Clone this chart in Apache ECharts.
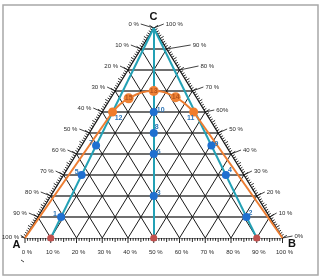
<!DOCTYPE html>
<html><head><meta charset="utf-8">
<script src="https://cdn.jsdelivr.net/npm/echarts@6/dist/echarts.min.js"></script>
<style>html,body{margin:0;padding:0;background:#fff}#c{width:324px;height:277px}</style>
</head><body><div id="c"></div>
<script>
// ---- Tick labels (index = 0..10, i.e. 0 %..100 % along each edge) ----
const baseLabels  = ['0 %','10 %','20 %','30 %','40 %','50 %','60 %','70 %','80 %','90 %','100 %']; // along A -> B
const leftLabels  = ['100 %','90 %','80 %','70 %','60 %','50 %','40 %','30 %','20 %','10 %','0 %']; // along A -> C
const rightLabels = ['0%','10 %','20 %','30 %','40 %','50 %','60%','70 %','80 %','90 %','100 %'];   // along B -> C
const gridSteps = [10,20,30,40,50,60,70,80,90];
const vertexNames = ['A','B','C'];

// ---- Feed points on the A-B base (A %, B %, C %) ----
const feedA = [90, 50, 10];
const feedB = [10, 50, 90];
const feedC = [0, 0, 0];

// ---- Blue points (A %, B %, C %) ----
const blueNames = ['1','5','7','3','6','8','10','2','4','9'];
const blueA = [81, 63, 50.4, 40, 30, 25, 20, 9, 7, 5.6];
const blueB = [9, 7, 5.6, 40, 30, 25, 20, 81, 63, 50.4];
const blueC = [10, 30, 44, 20, 40, 50, 60, 10, 30, 44];

// ---- Orange (binodal) curve points (A %, B %, C %) ----
const curveNames = ['A','12','15','13','14','11','B'];
const curveA = [100, 36, 26.5, 15, 8, 4.5, 0];
const curveB = [0, 4, 7, 15, 25, 35.5, 100];
const curveC = [0, 60, 66.5, 70, 67, 60, 0];

// ---- styling constants ----
const blueLabelOffsets = [[-6,-3],[-5,-3],[-5,-3],[5,-3],[5,-2],[3,-6],[7,-2],[4,-4],[4,-5],[5,-2]];
const leftGap  = [5,10,11,9,10,11,10,9,9,11,14];
const leftDy   = [-1,-4,-4,-4,-4,-4,-4,-4,-4,-4,-4];
const rightGap = [11,8,9,9,11,10,10,12,20,25,11];
const rightDy  = [-2,-4,-4,-4,-4,-4,-2,-4,-4,-4,-4];

function xy(a, b, c) { return [(b + c / 2) / 100, c / 100]; }

const chart = echarts.init(document.getElementById('c'), null, {renderer: 'canvas'});

// grid lines
const hLines = gridSteps.map(c => ({coords: [xy(100 - c, 0, c), xy(0, 100 - c, c)]}));
const dLines = [];
gridSteps.forEach(v => {
  dLines.push({coords: [xy(100 - v, v, 0), xy(0, v, 100 - v)]}); // constant B
  dLines.push({coords: [xy(v, 100 - v, 0), xy(v, 0, 100 - v)]}); // constant A
});
const edgeLines = [
  {coords: [xy(100,0,0), xy(0,100,0)]},
  {coords: [xy(100,0,0), xy(0,0,100)]},
  {coords: [xy(0,100,0), xy(0,0,100)]}
];
const tealLines = feedA.map((a, i) => ({coords: [xy(a, feedB[i], feedC[i]), xy(0, 0, 100)]}));

const last = curveA.length - 1;
const cpt = i => xy(curveA[i], curveB[i], curveC[i]);  // fresh array each call
const orangeLegs = [{coords: [cpt(0), cpt(1)]}, {coords: [cpt(last - 1), cpt(last)]}];
const arcData = [];
for (let i = 1; i < last; i++) arcData.push(cpt(i));

// ticks data
const tickData = [];
for (let e = 0; e < 3; e++) for (let i = 0; i <= 100; i++) tickData.push([e, i]);

const fontFam = '"Liberation Sans", Arial, sans-serif';

function renderTick(params, api) {
  const e = api.value(0), i = api.value(1), f = i;
  let p, n;
  const A = api.coord(xy(100,0,0)), B = api.coord(xy(0,100,0)), C = api.coord(xy(0,0,100));
  if (e === 0) { p = api.coord(xy(100 - f, f, 0)); n = [0, 1]; }
  else if (e === 1) {
    p = api.coord(xy(100 - f, 0, f));
    const dx = C[0] - A[0], dy = C[1] - A[1], L = Math.hypot(dx, dy);
    n = [dy / L, -dx / L];
  } else {
    p = api.coord(xy(0, 100 - f, f));
    const dx = C[0] - B[0], dy = C[1] - B[1], L = Math.hypot(dx, dy);
    n = [-dy / L, dx / L];
  }
  const len = i % 10 === 0 ? 5 : (i % 5 === 0 ? 4 : 2.8);
  const children = [{
    type: 'line',
    shape: {x1: p[0], y1: p[1], x2: p[0] + n[0] * len, y2: p[1] + n[1] * len},
    style: {stroke: '#111', lineWidth: 0.9}
  }];
  if (i % 10 === 0) {
    const k = i / 10;
    const ts = {fontSize: 6, fontFamily: fontFam, fill: '#2a2a2a'};
    if (e === 0) {
      children.push({type: 'text', x: p[0] + 2, y: p[1] + 14.5,
        style: Object.assign({text: baseLabels[k], align: 'center', verticalAlign: 'middle'}, ts)});
    } else if (e === 1) {
      const tx = p[0] - leftGap[k], ty = p[1] + leftDy[k];
      children.push({type: 'line', shape: {x1: p[0], y1: p[1], x2: tx + 1, y2: ty},
        style: {stroke: '#111', lineWidth: 0.8}});
      children.push({type: 'text', x: tx - 1, y: ty,
        style: Object.assign({text: leftLabels[k], align: 'right', verticalAlign: 'middle'}, ts)});
    } else {
      const tx = p[0] + rightGap[k], ty = p[1] + rightDy[k];
      children.push({type: 'line', shape: {x1: p[0], y1: p[1], x2: tx - 1, y2: ty},
        style: {stroke: '#111', lineWidth: 0.8}});
      children.push({type: 'text', x: tx + 1, y: ty,
        style: Object.assign({text: rightLabels[k], align: 'left', verticalAlign: 'middle'}, ts)});
    }
  }
  return {type: 'group', children: children};
}

const blueData = blueNames.map((nm, i) => ({
  value: xy(blueA[i], blueB[i], blueC[i]),
  label: {show: true, formatter: nm, position: 'inside', offset: blueLabelOffsets[i],
    color: '#2e75b6', fontSize: 7, fontWeight: 'bold', fontFamily: fontFam}
}));

const bigNames = ['15', '13', '14'];
const orangeBig = [], orangeSmall = [];
curveNames.forEach((nm, i) => {
  if (i === 0 || i === last) return;
  if (bigNames.indexOf(nm) >= 0) {
    orangeBig.push({value: cpt(i),
      label: {show: true, formatter: nm, position: 'inside', color: '#b5541e', fontSize: 7, fontWeight: 'bold', fontFamily: fontFam}});
  } else {
    orangeSmall.push({value: cpt(i),
      label: {show: true, formatter: nm, position: 'inside', offset: nm === '12' ? [6, 6] : [-3, 6],
        color: '#2e75b6', fontSize: 7, fontWeight: 'bold', fontFamily: fontFam}});
  }
});

const option = {
  animation: false,
  backgroundColor: '#fff',
  grid: {left: 25, top: 28, width: 257.5, height: 210},
  xAxis: {type: 'value', min: 0, max: 1, show: false},
  yAxis: {type: 'value', min: 0, max: 1, show: false},
  graphic: [
    {type: 'rect', shape: {x: 3, y: 5, width: 315, height: 270}, style: {fill: 'none', stroke: '#a8a8a8', lineWidth: 1.5}, z: 0},
    {type: 'text', x: 16.5, y: 245, style: {text: vertexNames[0], fontSize: 11, fontWeight: 'bold', fontFamily: fontFam, fill: '#111', align: 'center', verticalAlign: 'middle'}},
    {type: 'text', x: 292, y: 244, style: {text: vertexNames[1], fontSize: 11, fontWeight: 'bold', fontFamily: fontFam, fill: '#111', align: 'center', verticalAlign: 'middle'}},
    {type: 'text', x: 153.5, y: 17, style: {text: vertexNames[2], fontSize: 11, fontWeight: 'bold', fontFamily: fontFam, fill: '#111', align: 'center', verticalAlign: 'middle'}},
    {type: 'line', shape: {x1: 21, y1: 260, x2: 24, y2: 262}, style: {stroke: '#444', lineWidth: 1}}
  ],
  series: [
    {type: 'lines', coordinateSystem: 'cartesian2d', data: hLines, silent: true, z: 1,
      lineStyle: {color: '#6f6f6f', width: 2, opacity: 1}},
    {type: 'lines', coordinateSystem: 'cartesian2d', data: dLines, silent: true, z: 2,
      lineStyle: {color: '#1a1a1a', width: 1, opacity: 1}},
    {type: 'lines', coordinateSystem: 'cartesian2d', data: edgeLines, silent: true, z: 2,
      lineStyle: {color: '#111', width: 1.2, opacity: 1}},
    {type: 'custom', coordinateSystem: 'cartesian2d', data: tickData, renderItem: renderTick, silent: true, z: 2},
    {type: 'lines', coordinateSystem: 'cartesian2d', data: tealLines, silent: true, z: 3,
      lineStyle: {color: '#23a1b5', width: 2, opacity: 1}},
    {type: 'lines', coordinateSystem: 'cartesian2d', data: orangeLegs, silent: true, z: 3,
      lineStyle: {color: '#ed7d31', width: 2, opacity: 1}},
    {type: 'line', data: arcData, smooth: 0.45, symbol: 'none', silent: true, z: 3,
      lineStyle: {color: '#ed7d31', width: 2}},
    {type: 'scatter', data: feedA.map((a, i) => xy(a, feedB[i], feedC[i])), symbolSize: 7, z: 5,
      itemStyle: {color: '#c0504d', opacity: 1}},
    {type: 'scatter', data: blueData, symbolSize: 8, z: 5, itemStyle: {color: '#1f70d0', opacity: 1}},
    {type: 'scatter', data: orangeSmall, symbolSize: 9, z: 6, itemStyle: {color: '#f07c2a', opacity: 1}},
    {type: 'scatter', data: orangeBig, symbolSize: 10, z: 6, itemStyle: {color: '#ee8236', opacity: 1}}
  ]
};
chart.setOption(option);
</script></body></html>
